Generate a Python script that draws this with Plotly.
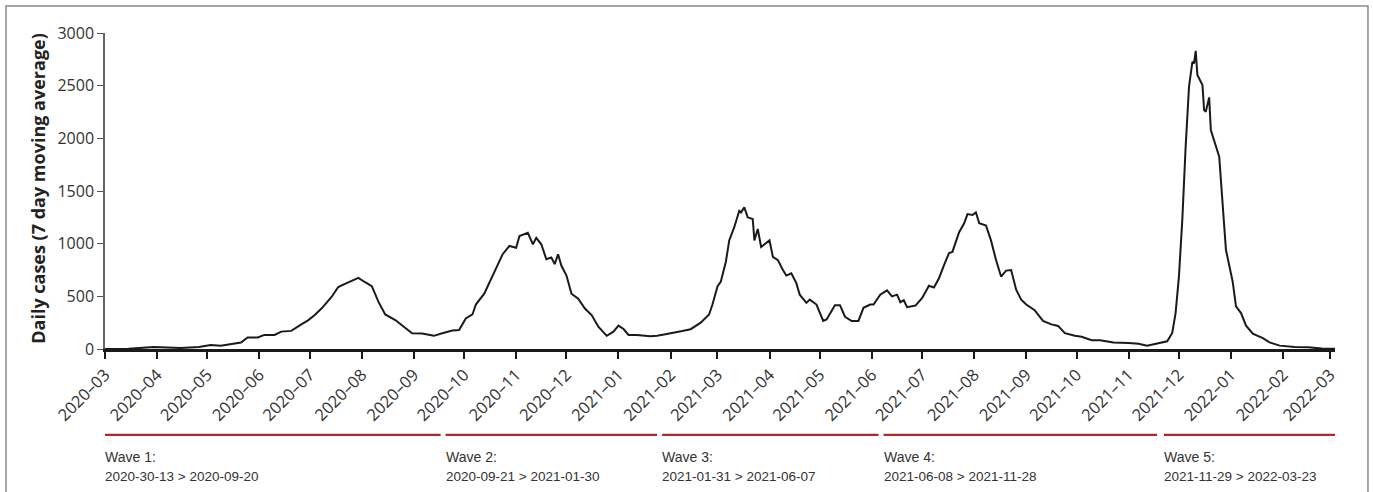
import plotly.graph_objects as go

# ---- data (7-day moving average of daily cases) ----
dates = [
    "2020-03-01", "2020-03-15", "2020-03-30", "2020-04-06", "2020-04-15", "2020-04-26",
    "2020-05-03", "2020-05-09", "2020-05-17", "2020-05-21", "2020-05-25", "2020-05-31",
    "2020-06-04", "2020-06-10", "2020-06-14", "2020-06-20", "2020-06-26", "2020-06-30",
    "2020-07-04", "2020-07-08", "2020-07-14", "2020-07-18", "2020-07-22", "2020-07-26",
    "2020-07-30", "2020-08-03", "2020-08-07", "2020-08-11", "2020-08-15", "2020-08-21",
    "2020-08-27", "2020-08-31", "2020-09-06", "2020-09-13", "2020-09-18", "2020-09-24",
    "2020-09-28", "2020-10-02", "2020-10-06", "2020-10-08", "2020-10-13", "2020-10-18",
    "2020-10-21", "2020-10-24", "2020-10-28", "2020-11-01", "2020-11-03", "2020-11-08",
    "2020-11-11", "2020-11-13", "2020-11-16", "2020-11-19", "2020-11-22", "2020-11-24",
    "2020-11-26", "2020-11-28", "2020-12-01", "2020-12-04", "2020-12-08", "2020-12-12",
    "2020-12-16", "2020-12-20", "2020-12-25", "2020-12-29", "2021-01-01", "2021-01-04",
    "2021-01-07", "2021-01-12", "2021-01-20", "2021-01-24", "2021-01-29", "2021-02-04",
    "2021-02-08", "2021-02-13", "2021-02-19", "2021-02-24", "2021-02-26", "2021-03-01",
    "2021-03-03", "2021-03-06", "2021-03-08", "2021-03-11", "2021-03-14", "2021-03-15",
    "2021-03-17", "2021-03-19", "2021-03-22", "2021-03-23", "2021-03-25", "2021-03-27",
    "2021-04-01", "2021-04-03", "2021-04-06", "2021-04-09", "2021-04-11", "2021-04-14",
    "2021-04-17", "2021-04-19", "2021-04-23", "2021-04-25", "2021-04-29", "2021-05-03",
    "2021-05-05", "2021-05-10", "2021-05-13", "2021-05-16", "2021-05-20", "2021-05-24",
    "2021-05-27", "2021-05-31", "2021-06-02", "2021-06-06", "2021-06-10", "2021-06-13",
    "2021-06-16", "2021-06-18", "2021-06-20", "2021-06-22", "2021-06-27", "2021-07-01",
    "2021-07-05", "2021-07-08", "2021-07-11", "2021-07-14", "2021-07-17", "2021-07-19",
    "2021-07-23", "2021-07-26", "2021-07-28", "2021-07-31", "2021-08-02", "2021-08-04",
    "2021-08-08", "2021-08-11", "2021-08-14", "2021-08-17", "2021-08-20", "2021-08-23",
    "2021-08-26", "2021-08-29", "2021-09-01", "2021-09-06", "2021-09-11", "2021-09-16",
    "2021-09-20", "2021-09-24", "2021-09-30", "2021-10-04", "2021-10-10", "2021-10-15",
    "2021-10-23", "2021-11-01", "2021-11-07", "2021-11-12", "2021-11-16", "2021-11-20",
    "2021-11-24", "2021-11-27", "2021-11-29", "2021-12-01", "2021-12-03", "2021-12-05",
    "2021-12-07", "2021-12-09", "2021-12-10", "2021-12-11", "2021-12-12", "2021-12-15",
    "2021-12-16", "2021-12-17", "2021-12-19", "2021-12-20", "2021-12-24", "2021-12-25",
    "2021-12-27", "2021-12-29", "2022-01-02", "2022-01-04", "2022-01-07", "2022-01-10",
    "2022-01-14", "2022-01-20", "2022-01-24", "2022-01-30", "2022-02-08", "2022-02-16",
    "2022-02-24", "2022-03-04",
]
cases = [
    0, 2, 19, 12, 10, 19,
    37, 31, 56, 62, 109, 109,
    134, 134, 165, 172, 234, 272,
    322, 384, 494, 588, 619, 650,
    675, 634, 597, 447, 328, 275,
    197, 150, 147, 125, 150, 175,
    181, 290, 328, 422, 525, 697,
    790, 900, 978, 962, 1072, 1103,
    994, 1056, 994, 853, 869, 806,
    900, 790, 697, 525, 478, 384,
    322, 212, 125, 165, 222, 190,
    134, 134, 122, 125, 140, 156,
    170, 188, 250, 328, 422, 594,
    640, 828, 1031, 1156, 1312, 1297,
    1344, 1250, 1234, 1031, 1140, 969,
    1031, 875, 844, 750, 697, 719,
    625, 516, 438, 469, 422, 266,
    281, 416, 416, 306, 266, 266,
    391, 422, 422, 516, 556, 500,
    516, 444, 463, 397, 412, 484,
    600, 584, 672, 797, 912, 922,
    1109, 1194, 1281, 1272, 1297, 1194,
    1172, 1031, 844, 688, 744, 750,
    563, 469, 422, 369, 266, 234,
    219, 150, 125, 116, 84, 84,
    62, 56, 50, 31, 45, 63,
    73, 152, 341, 689, 1226, 1921,
    2490, 2727, 2711, 2830, 2601, 2506,
    2269, 2253, 2389, 2079, 1858, 1826,
    1384, 942, 641, 404, 341, 221,
    145, 104, 63, 32, 19, 16,
    5, 3,
]

tick_dates = [
    "2020-03-01", "2020-04-01", "2020-05-01", "2020-06-01", "2020-07-01", "2020-08-01",
    "2020-09-01", "2020-10-01", "2020-11-01", "2020-12-01", "2021-01-01", "2021-02-01",
    "2021-03-01", "2021-04-01", "2021-05-01", "2021-06-01", "2021-07-01", "2021-08-01",
    "2021-09-01", "2021-10-01", "2021-11-01", "2021-12-01", "2022-01-01", "2022-02-01",
    "2022-03-01",
]
tick_labels = [d[:4] + "\u2013" + d[5:7] for d in tick_dates]

y_ticks = [0, 500, 1000, 1500, 2000, 2500, 3000]

wave_names = ["Wave 1:", "Wave 2:", "Wave 3:", "Wave 4:", "Wave 5:"]
wave_periods = [
    "2020-30-13 > 2020-09-20",
    "2020-09-21 > 2021-01-30",
    "2021-01-31 > 2021-06-07",
    "2021-06-08 > 2021-11-28",
    "2021-11-29 > 2022-03-23",
]
wave_bar_start = ["2020-03-01", "2020-09-20", "2021-01-27", "2021-06-08", "2021-11-22"]
wave_bar_end = ["2020-09-17", "2021-01-24", "2021-06-05", "2021-11-18", "2022-03-04"]

TICK_FONT = "'Open Sans', Lato, sans-serif"
WAVE_FONT = "'Liberation Sans', Arial, sans-serif"

fig = go.Figure()
fig.add_trace(go.Scatter(
    x=dates, y=cases, mode="lines",
    line=dict(color="#1a1a1a", width=2),
    hoverinfo="x+y", showlegend=False,
))

shapes = []
annotations = []
# wave bars and labels below the axis
for name, period, s, e in zip(wave_names, wave_periods, wave_bar_start, wave_bar_end):
    shapes.append(dict(type="line", xref="x", yref="paper", x0=s, x1=e,
                       y0=-0.272, y1=-0.272, line=dict(color="#b0282a", width=2.2)))
    annotations.append(dict(xref="x", yref="paper", x=s, y=-0.342, xanchor="left",
                            yanchor="middle", showarrow=False, text=name, xshift=-2,
                            font=dict(family=WAVE_FONT, size=14, color="#333333")))
    annotations.append(dict(xref="x", yref="paper", x=s, y=-0.405, xanchor="left",
                            yanchor="middle", showarrow=False, text=period, xshift=-2,
                            font=dict(family=WAVE_FONT, size=13.5, color="#333333")))

# outer frame
shapes.append(dict(type="rect", xref="paper", yref="paper",
                   x0=-0.0805, x1=1.0268, y0=-0.48, y1=1.0854,
                   line=dict(color="#8a8a8a", width=1.5), fillcolor="rgba(0,0,0,0)"))

# y-axis title
annotations.append(dict(xref="paper", yref="paper", x=-0.0545, y=0.51,
                        text="<b>Daily cases (7 day moving average)</b>", textangle=-90,
                        showarrow=False, xanchor="center", yanchor="middle",
                        font=dict(family=TICK_FONT, size=18, color="#222222")))

fig.update_layout(
    width=1373, height=492,
    margin=dict(l=105, r=38, t=33, b=143),
    paper_bgcolor="white", plot_bgcolor="white",
    shapes=shapes, annotations=annotations,
    xaxis=dict(
        type="date", range=["2020-03-01", "2022-03-04"],
        tickvals=tick_dates, ticktext=tick_labels, tickangle=-45,
        ticks="outside", ticklen=7, tickwidth=1.5, tickcolor="#1a1a1a",
        showline=True, linecolor="#1a1a1a", linewidth=2.5,
        showgrid=False, zeroline=False,
        tickfont=dict(family=TICK_FONT, size=16.5, color="#333333"),
    ),
    yaxis=dict(
        range=[0, 3000], tickvals=y_ticks,
        ticks="outside", ticklen=6, tickwidth=1, tickcolor="#555555",
        showline=True, linecolor="#666666", linewidth=1.5,
        showgrid=False, zeroline=False,
        tickfont=dict(family=TICK_FONT, size=16, color="#333333"),
    ),
)

fig.write_html(
    "out.html",
    config={"displayModeBar": False},
    post_script="document.body.style.margin='0';document.body.style.overflow='hidden';",
)
